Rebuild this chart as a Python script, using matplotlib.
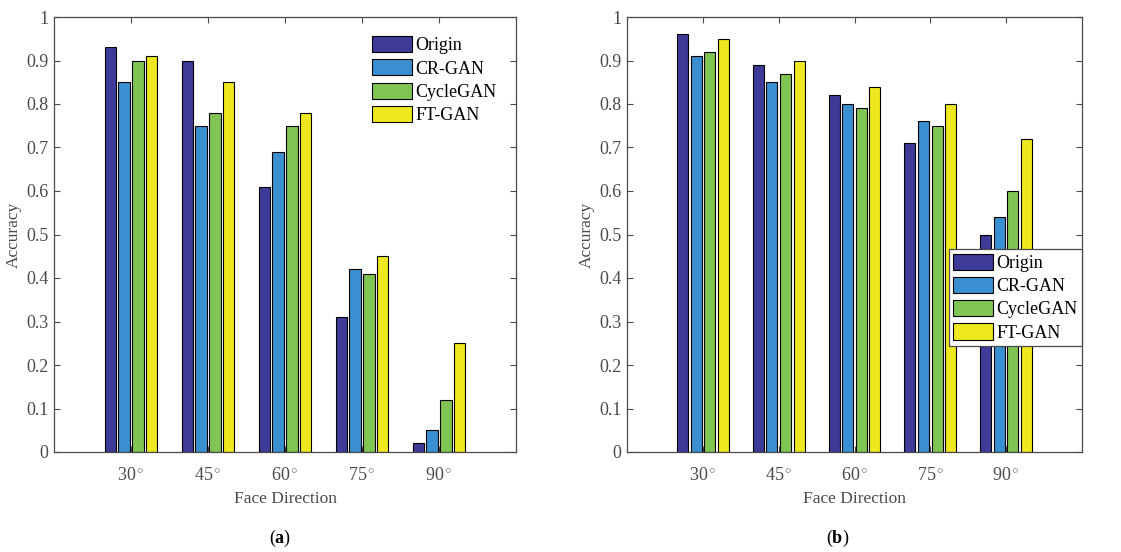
import matplotlib
matplotlib.use("Agg")
import matplotlib.pyplot as plt
import numpy as np

plt.rcParams["font.family"] = ["Liberation Serif", "DejaVu Serif"]
plt.rcParams["mathtext.fontset"] = "custom"
plt.rcParams["mathtext.rm"] = "Liberation Serif"
plt.rcParams["mathtext.it"] = "Liberation Serif:italic"
plt.rcParams["mathtext.bf"] = "Liberation Serif:bold"

directions = ["30", "45", "60", "75", "90"]
methods = ["Origin", "CR-GAN", "CycleGAN", "FT-GAN"]
colors = ["#3d3a98", "#3a8fd0", "#80c454", "#efe81e"]

# panel (a)
origin_a = [0.93, 0.90, 0.61, 0.31, 0.02]
crgan_a = [0.85, 0.75, 0.69, 0.42, 0.05]
cyclegan_a = [0.90, 0.78, 0.75, 0.41, 0.12]
ftgan_a = [0.91, 0.85, 0.78, 0.45, 0.25]

# panel (b)
origin_b = [0.96, 0.89, 0.82, 0.71, 0.50]
crgan_b = [0.91, 0.85, 0.80, 0.76, 0.54]
cyclegan_b = [0.92, 0.87, 0.79, 0.75, 0.60]
ftgan_b = [0.95, 0.90, 0.84, 0.80, 0.72]

gray = "#4a4a4a"

fig = plt.figure(figsize=(11.21, 5.52), dpi=100)
ax_a = fig.add_axes([54 / 1121, 100 / 552, 462 / 1121, 435 / 552])
ax_b = fig.add_axes([627 / 1121, 100 / 552, 455 / 1121, 435 / 552])


def draw_panel(ax, series):
    x = np.arange(1, len(directions) + 1)
    offsets = [-0.27, -0.09, 0.09, 0.27]
    for vals, name, c, off in zip(series, methods, colors, offsets):
        ax.bar(x + off, vals, width=0.145, color=c, edgecolor="black",
               linewidth=0.8, label=name, zorder=2)
    ax.set_xlim(0, 6)
    ax.set_ylim(0, 1)
    ax.set_xticks(x)
    ax.set_xticklabels([d + r"$^\circ$" for d in directions])
    ax.set_yticks(np.arange(0, 1.01, 0.1))
    ax.set_yticklabels(["0"] + ["%.1f" % v for v in np.arange(0.1, 0.95, 0.1)] + ["1"])
    ax.tick_params(direction="in", top=True, right=True, length=4,
                   width=0.8, colors=gray, labelsize=13)
    ax.tick_params(axis="x", pad=11)
    ax.tick_params(axis="y", pad=4)
    for s in ax.spines.values():
        s.set_color(gray)
        s.set_linewidth(0.9)
    ax.set_xlabel("Face Direction", fontsize=12.5, color=gray, labelpad=5)
    ax.set_ylabel("Accuracy", fontsize=12.5, color=gray, labelpad=3)


draw_panel(ax_a, [origin_a, crgan_a, cyclegan_a, ftgan_a])
draw_panel(ax_b, [origin_b, crgan_b, cyclegan_b, ftgan_b])

leg_kw = dict(fontsize=13, handlelength=2.2, handleheight=1.0,
              handletextpad=0.2, labelspacing=0.28, borderaxespad=0)
ax_a.legend(loc="upper left", bbox_to_anchor=((372 - 54) / 462, (452 - 36) / 435),
            frameon=False, borderpad=0, **leg_kw)
leg = ax_b.legend(loc="upper right", bbox_to_anchor=(1.0, (452 - 249) / 435),
                  frameon=True, fancybox=False, framealpha=1, borderpad=0.25,
                  **leg_kw)
leg.get_frame().set_edgecolor(gray)
leg.get_frame().set_linewidth(0.9)

fig.text(280 / 1121, 1 - 538 / 552, r"($\mathbf{a}$)", fontsize=13,
         ha="center", va="center")
fig.text(838 / 1121, 1 - 538 / 552, r"($\mathbf{b}$)", fontsize=13,
         ha="center", va="center")

fig.savefig("out.png", dpi=100)
